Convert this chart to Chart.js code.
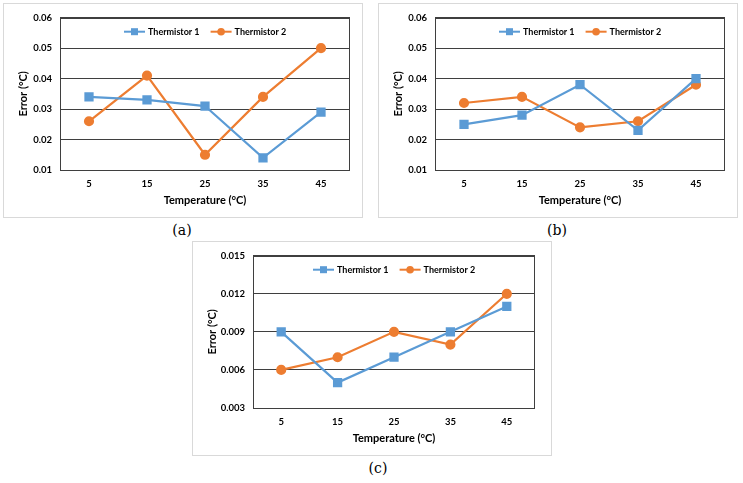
<!DOCTYPE html>
<html>
<head>
<meta charset="utf-8">
<script src="https://cdn.jsdelivr.net/npm/chart.js@4.4.1/dist/chart.umd.min.js"></script>
<style>
  html, body { margin: 0; padding: 0; background: #fff; }
  body { position: relative; width: 743px; height: 483px; overflow: hidden; }
  .frame { position: absolute; width: 358px; height: 213px; border: 1px solid #d9d9d9; }
  .cap { position: absolute; width: 40px; text-align: center; font-family: "DejaVu Serif", serif; font-size: 14px; color: #000; }
</style>
</head>
<body>
<div class="frame" style="left:3px; top:3px;"><canvas id="chartA"></canvas></div>
<div class="frame" style="left:378px; top:3px;"><canvas id="chartB"></canvas></div>
<div class="frame" style="left:192px; top:241px;"><canvas id="chartC"></canvas></div>
<div class="cap" style="left:162px; top:222px;">(a)</div>
<div class="cap" style="left:537px; top:222px;">(b)</div>
<div class="cap" style="left:358px; top:460px;">(c)</div>
<script>
const temperatures = ['5', '15', '25', '35', '45'];

const thermistor1A = [0.034, 0.033, 0.031, 0.014, 0.029];
const thermistor2A = [0.026, 0.041, 0.015, 0.034, 0.050];

const thermistor1B = [0.025, 0.028, 0.038, 0.023, 0.040];
const thermistor2B = [0.032, 0.034, 0.024, 0.026, 0.038];

const thermistor1C = [0.009, 0.005, 0.007, 0.009, 0.011];
const thermistor2C = [0.006, 0.007, 0.009, 0.008, 0.012];

const blue = '#5b9bd5';
const orange = '#ed7d31';
const gridColor = '#3f3f3f';
const font = 'Lato, "Open Sans", sans-serif';

// frame round the plot area
const plotBox = {
    id: 'plotBox',
    beforeDatasetsDraw(chart) {
        const a = chart.chartArea, ctx = chart.ctx;
        ctx.save();
        ctx.strokeStyle = gridColor;
        ctx.lineWidth = 1;
        ctx.strokeRect(Math.round(a.left) + 0.5, Math.round(a.top) + 0.5,
            Math.round(a.right - a.left) - 1, Math.round(a.bottom - a.top));
        ctx.restore();
    }
};

// Excel-like legend sitting inside the top of the plot area
const insideLegend = {
    id: 'insideLegend',
    afterDatasetsDraw(chart) {
        const a = chart.chartArea, ctx = chart.ctx;
        const iconW = 21, gapText = 3, gapItem = 11;
        ctx.save();
        ctx.font = 'bold 9px ' + font;
        ctx.textBaseline = 'middle';
        const items = chart.data.datasets.map(ds => ({ ds, w: iconW + gapText + ctx.measureText(ds.label).width }));
        const total = items.reduce((s, it) => s + it.w, 0) + gapItem * (items.length - 1);
        let x = Math.round((a.left + a.right) / 2 - total / 2);
        const y = a.top + 14;
        items.forEach(it => {
            const ds = it.ds;
            ctx.strokeStyle = ds.borderColor;
            ctx.fillStyle = ds.borderColor;
            ctx.lineWidth = 2;
            ctx.beginPath(); ctx.moveTo(x, y); ctx.lineTo(x + iconW, y); ctx.stroke();
            if (ds.pointStyle === 'rect') {
                ctx.fillRect(x + iconW / 2 - 3.5, y - 3.5, 7, 7);
            } else {
                ctx.beginPath(); ctx.arc(x + iconW / 2, y, 3.8, 0, Math.PI * 2); ctx.fill();
            }
            ctx.fillStyle = '#000';
            ctx.fillText(ds.label, x + iconW + gapText, y + 0.5);
            x += it.w + gapItem;
        });
        ctx.restore();
    }
};

function drawErrorChart(id, values1, values2, yMin, yMax, step, digits, rightPad) {
    const ctx = document.getElementById(id);
    return new Chart(ctx, {
        type: 'line',
        data: {
            labels: temperatures,
            datasets: [
                {
                    label: 'Thermistor 1',
                    data: values1,
                    borderColor: blue,
                    backgroundColor: blue,
                    borderWidth: 2.2,
                    pointStyle: 'rect',
                    pointRadius: 5,
                    fill: false,
                    tension: 0
                },
                {
                    label: 'Thermistor 2',
                    data: values2,
                    borderColor: orange,
                    backgroundColor: orange,
                    borderWidth: 2.2,
                    pointStyle: 'circle',
                    pointRadius: 4,
                    fill: false,
                    tension: 0
                }
            ]
        },
        options: {
            responsive: true,
            maintainAspectRatio: false,
            animation: false,
            layout: { padding: { top: 11, right: rightPad, bottom: 0, left: 0 } },
            plugins: {
                tooltip: { enabled: false },
                legend: { display: false }
            },
            scales: {
                x: {
                    offset: true,
                    grid: { display: false, drawTicks: false },
                    border: { display: false },
                    ticks: { color: '#000', padding: 8, font: { family: font, size: 9.5, weight: 'bold' } },
                    title: {
                        display: true,
                        text: 'Temperature (°C)',
                        color: '#000',
                        padding: { top: 0, bottom: 10 },
                        font: { family: font, size: 11, weight: 'bold' }
                    },
                    afterFit(scale) { scale.height = 47; }
                },
                y: {
                    min: yMin,
                    max: yMax,
                    grid: { color: gridColor, lineWidth: 1, drawTicks: false },
                    border: { display: true, color: gridColor, width: 1 },
                    ticks: {
                        stepSize: step,
                        color: '#000',
                        padding: 8,
                        font: { family: font, size: 9.5, weight: 'bold' },
                        callback: v => Number(v).toFixed(digits)
                    },
                    title: {
                        display: true,
                        text: 'Error (°C)',
                        color: '#000',
                        padding: { top: 13, bottom: 0 },
                        font: { family: font, size: 11, weight: 'bold' }
                    },
                    afterFit(scale) { scale.width = (digits === 3 ? 60 : 56); }
                }
            }
        },
        plugins: [plotBox, insideLegend]
    });
}

drawErrorChart('chartA', thermistor1A, thermistor2A, 0.01, 0.06, 0.01, 2, 12);
drawErrorChart('chartB', thermistor1B, thermistor2B, 0.01, 0.06, 0.01, 2, 12);
drawErrorChart('chartC', thermistor1C, thermistor2C, 0.003, 0.015, 0.003, 3, 16);
</script>
</body>
</html>
